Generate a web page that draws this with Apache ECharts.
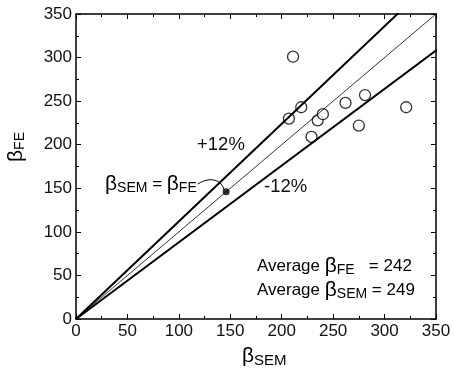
<!DOCTYPE html>
<html><head><meta charset="utf-8">
<script src="https://cdn.jsdelivr.net/npm/echarts@6/dist/echarts.min.js"></script>
<style>html,body{margin:0;padding:0;background:#fff}#c{width:454px;height:376px}</style>
</head><body><div id="c"></div>
<script>
var xTicks = [0, 50, 100, 150, 200, 250, 300, 350];
var beta_SEM = [211, 207, 219, 229, 235, 240, 262, 281, 275, 321];
var beta_FE  = [301, 230, 243, 209, 228, 235, 248, 257, 222, 243];
var equalPoint = [[146, 146]];
var ratioPlus = 1.12, ratioMinus = 0.88;
var lineEnds = [0, 400];
var avgFE = 242, avgSEM = 249;

var F = 'Liberation Sans, Arial, sans-serif';
var chart = echarts.init(document.getElementById('c'), null, {renderer: 'canvas'});
function ref(r){ return lineEnds.map(function(x){ return [x, x*r]; }); }
function axisCommon(showLabel){
  return {
    type: 'value', min: 0, max: 350, interval: 50,
    axisLine: {show: true, onZero: false, lineStyle: {color: '#000', width: 1.5}},
    axisTick: {show: true, inside: true, length: 5, lineStyle: {color: '#000', width: 1}},
    minorTick: {show: true, splitNumber: 2, length: 3, lineStyle: {color: '#000', width: 1}},
    splitLine: {show: false},
    axisLabel: {show: showLabel, color: '#111', fontSize: 17, fontFamily: F, margin: 4}
  };
}
var xb = axisCommon(true); xb.position = 'bottom';
var xt = axisCommon(false); xt.position = 'top';
var yl = axisCommon(true); yl.position = 'left';
var yr = axisCommon(false); yr.position = 'right';
var rich = {
  b: {fontSize: 21, fontFamily: F, color: '#111'},
  s: {fontSize: 14, fontFamily: F, color: '#111', padding: [7, 0, 0, 0]},
  S: {fontSize: 15, fontFamily: F, color: '#111', padding: [8, 0, 0, 0]},
  t: {fontSize: 17, fontFamily: F, color: '#111'}
};
chart.setOption({
  animation: false,
  grid: {left: 76, right: 18, top: 14, bottom: 57, containLabel: false},
  xAxis: [xb, xt],
  yAxis: [yl, yr],
  series: [
    {type: 'line', data: ref(1), symbol: 'none', lineStyle: {color: '#000', width: 0.8}, clip: true},
    {type: 'line', data: ref(ratioPlus), symbol: 'none', lineStyle: {color: '#000', width: 2}, clip: true},
    {type: 'line', data: ref(ratioMinus), symbol: 'none', lineStyle: {color: '#000', width: 2}, clip: true},
    {type: 'scatter', data: beta_SEM.map(function(x, i){ return [x, beta_FE[i]]; }),
     symbol: 'circle', symbolSize: 11, itemStyle: {color: '#fff', borderColor: '#000', borderWidth: 1.3}},
    {type: 'scatter', data: equalPoint, symbol: 'circle', symbolSize: 7, itemStyle: {color: '#000'}}
  ],
  graphic: [
    {type: 'text', x: 242, y: 345, style: {text: '{b|β}{S|SEM}', rich: rich}},
    {type: 'text', x: 6, y: 162, rotation: Math.PI/2, style: {text: '{b|β}{s|FE}', rich: rich}},
    {type: 'text', x: 197, y: 135, style: {text: '+12%', font: '18.5px ' + F, fill: '#111'}},
    {type: 'text', x: 264, y: 177, style: {text: '-12%', font: '18.5px ' + F, fill: '#111'}},
    {type: 'text', x: 105, y: 174, style: {text: '{b|β}{s|SEM}{t| = }{b|β}{s|FE}', rich: rich}},
    {type: 'bezierCurve', shape: {x1: 198, y1: 184, cpx1: 210, cpy1: 176, cpx2: 222, cpy2: 180, x2: 224, y2: 190},
     style: {stroke: '#000', lineWidth: 1, fill: null}},
    {type: 'text', x: 257, y: 256, style: {text: '{t|Average }{b|β}{s|FE}{t|   = ' + avgFE + '}', rich: rich}},
    {type: 'text', x: 257, y: 280, style: {text: '{t|Average }{b|β}{s|SEM}{t| = ' + avgSEM + '}', rich: rich}}
  ]
});
</script></body></html>
